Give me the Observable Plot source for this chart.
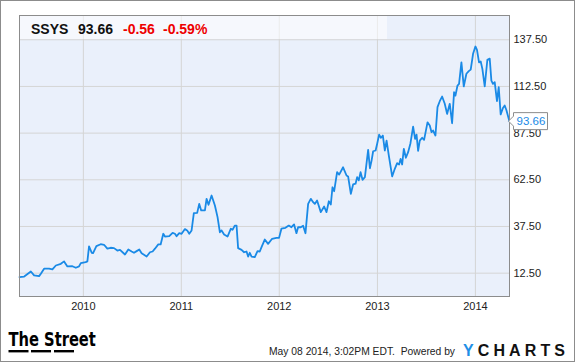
<!DOCTYPE html>
<html>
<head>
<meta charset="utf-8">
<script src="https://cdn.jsdelivr.net/npm/d3@7"></script>
<script src="https://cdn.jsdelivr.net/npm/@observablehq/plot@0.6"></script>
<style>
  html, body { margin: 0; padding: 0; background: #fff; }
  #wrap { position: relative; width: 575px; height: 362px; overflow: hidden; font-family: Arial, "Liberation Sans", sans-serif; }
  #wrap svg { display: block; }
  #overlay { position: absolute; left: 0; top: 0; pointer-events: none; }
</style>
</head>
<body>
<div id="wrap"></div>
<script>
// ---- data (decimal years, closing prices) ----
const times = [
  2009.348, 2009.396, 2009.464, 2009.497, 2009.548, 2009.566, 2009.599, 2009.650, 2009.684, 2009.719,
  2009.770, 2009.803, 2009.837, 2009.888, 2009.923, 2009.956, 2009.974, 2010.024, 2010.041, 2010.058,
  2010.086, 2010.099, 2010.133, 2010.177, 2010.211, 2010.245, 2010.279, 2010.313, 2010.347, 2010.374,
  2010.425, 2010.459, 2010.493, 2010.517, 2010.544, 2010.571, 2010.595, 2010.646, 2010.680, 2010.707,
  2010.731, 2010.765, 2010.789, 2010.816, 2010.833, 2010.877, 2010.911, 2010.935, 2010.952, 2010.979,
  2011.003, 2011.037, 2011.060, 2011.081, 2011.105, 2011.128, 2011.162, 2011.183, 2011.203, 2011.241,
  2011.258, 2011.278, 2011.309, 2011.343, 2011.370, 2011.394, 2011.411, 2011.437, 2011.472, 2011.506,
  2011.523, 2011.546, 2011.564, 2011.580, 2011.615, 2011.641, 2011.666, 2011.682, 2011.699, 2011.717,
  2011.750, 2011.778, 2011.801, 2011.819, 2011.852, 2011.886, 2011.927, 2011.971, 2011.998, 2012.022,
  2012.063, 2012.097, 2012.124, 2012.151, 2012.175, 2012.192, 2012.219, 2012.243, 2012.267, 2012.294,
  2012.321, 2012.345, 2012.362, 2012.385, 2012.423, 2012.457, 2012.481, 2012.505, 2012.525, 2012.542,
  2012.559, 2012.589, 2012.610, 2012.650, 2012.685, 2012.701, 2012.729, 2012.752, 2012.777, 2012.793,
  2012.810, 2012.828, 2012.848, 2012.872, 2012.905, 2012.923, 2012.940, 2012.956, 2012.981, 2012.997,
  2013.017, 2013.035, 2013.055, 2013.075, 2013.093, 2013.116, 2013.150, 2013.177, 2013.201, 2013.221,
  2013.236, 2013.252, 2013.269, 2013.290, 2013.313, 2013.337, 2013.364, 2013.384, 2013.399, 2013.415,
  2013.432, 2013.456, 2013.476, 2013.511, 2013.534, 2013.552, 2013.568, 2013.592, 2013.613, 2013.636,
  2013.660, 2013.687, 2013.711, 2013.738, 2013.762, 2013.782, 2013.796, 2013.817, 2013.833, 2013.857,
  2013.881, 2013.908, 2013.932, 2013.952, 2013.976, 2014.000, 2014.016, 2014.037, 2014.054, 2014.071,
  2014.095, 2014.122, 2014.146, 2014.163, 2014.179, 2014.197, 2014.220, 2014.238, 2014.258, 2014.281,
  2014.299, 2014.316, 2014.348
];
const prices = [
  10.4, 10.7, 13.4, 11.3, 10.9, 12.2, 14.9, 14.9, 14.5, 16.6,
  17.5, 18.8, 16.1, 16.2, 15.4, 16.1, 17.9, 18.4, 18.8, 26.8,
  23.4, 23.2, 27.0, 28.0, 27.7, 25.6, 26.1, 25.9, 24.6, 25.0,
  22.5, 25.2, 24.1, 23.4, 24.3, 25.2, 23.2, 21.4, 23.7, 24.1,
  25.6, 27.9, 27.9, 33.6, 32.1, 32.3, 34.1, 33.6, 32.3, 33.9,
  33.6, 36.1, 35.4, 33.6, 35.4, 44.6, 44.8, 49.6, 46.1, 46.1,
  52.3, 49.1, 54.1, 48.7, 42.5, 34.4, 35.4, 33.2, 32.1, 36.3,
  35.7, 38.0, 38.0, 25.9, 25.0, 23.7, 24.1, 21.4, 23.4, 21.4,
  21.1, 24.3, 24.1, 26.4, 30.5, 28.2, 30.9, 31.4, 31.4, 36.3,
  36.8, 38.0, 37.1, 38.6, 33.9, 37.1, 37.1, 37.9, 33.9, 49.6,
  52.3, 50.5, 49.6, 51.4, 45.2, 48.2, 45.2, 51.0, 49.3, 58.5,
  56.4, 66.6, 65.3, 69.2, 64.8, 64.3, 55.0, 60.0, 60.4, 63.9,
  62.2, 66.6, 62.5, 63.9, 78.5, 68.7, 72.8, 77.8, 78.2, 81.8,
  86.7, 85.0, 86.2, 78.2, 83.5, 75.5, 64.3, 68.4, 71.4, 70.7,
  73.7, 70.7, 79.1, 74.3, 77.3, 82.1, 91.0, 84.4, 86.7, 78.0,
  83.5, 85.0, 83.9, 93.3, 91.6, 88.0, 88.9, 86.2, 101.4, 104.6,
  107.1, 103.2, 97.8, 103.2, 92.8, 109.4, 107.6, 113.0, 113.9, 125.4,
  112.5, 119.3, 120.7, 121.5, 130.0, 133.9, 132.1, 125.4, 125.9, 121.9,
  112.5, 126.8, 127.4, 115.6, 113.9, 114.8, 104.6, 112.1, 97.5, 101.0,
  102.3, 99.9, 93.66
];
const yTicks = [12.5, 37.5, 62.5, 87.5, 112.5, 137.5];
const xTickYears = [2010, 2011, 2012, 2013, 2014];
const ticker = "SSYS";
const lastPrice = "93.66";
const change = "-0.56";
const changePct = "-0.59%";
const footerText = "May 08 2014, 3:02PM EDT.  Powered by";

// ---- build table ----
function decToDate(t) {
  const y = Math.floor(t);
  const a = Date.UTC(y, 0, 1), b = Date.UTC(y + 1, 0, 1);
  return new Date(a + (t - y) * (b - a));
}
const data = times.map((t, i) => ({date: decToDate(t), price: prices[i]}));
const xTicks = xTickYears.map(y => new Date(Date.UTC(y, 0, 1)));

const W = 575, H = 362;
const chart = Plot.plot({
  width: W, height: H,
  marginLeft: 19, marginRight: 66, marginTop: 15, marginBottom: 66,
  x: {type: "utc", domain: [data[0].date, data[data.length - 1].date], label: null},
  y: {domain: [0, 150.5], label: null},
  style: {fontFamily: 'Arial, "Liberation Sans", sans-serif', fontSize: "11px", color: "#222", background: "transparent"},
  marks: [
    Plot.frame({fill: "#eaf0fb", stroke: null}),
    Plot.gridY(yTicks, {stroke: "#d5d5d5", strokeOpacity: 1, strokeWidth: 1}),
    Plot.gridX(xTicks, {stroke: "#d5d5d5", strokeOpacity: 1, strokeWidth: 1}),
    Plot.axisY(yTicks, {anchor: "right", tickSize: 0, tickPadding: 4, tickFormat: d3.format(".2f"), label: null, fill: "#222"}),
    Plot.axisX(xTicks, {anchor: "bottom", tickSize: 0, tickPadding: 6, tickFormat: d3.utcFormat("%Y"), label: null, fill: "#222"}),
    Plot.lineY(data, {x: "date", y: "price", stroke: "#1a8ae6", strokeWidth: 1.8, strokeLinejoin: "round"}),
    Plot.frame({stroke: "#8c8c8c", strokeWidth: 1})
  ]
});
const wrap = document.getElementById("wrap");
wrap.appendChild(chart);

// ---- overlay: header, last-price flag, footer, border ----
const px = chart.scale("x").apply(data[data.length - 1].date);
const py = chart.scale("y").apply(+lastPrice);
const ns = "http://www.w3.org/2000/svg";
const ov = document.createElementNS(ns, "svg");
ov.setAttribute("id", "overlay");
ov.setAttribute("width", W); ov.setAttribute("height", H);
ov.setAttribute("font-family", 'Arial, "Liberation Sans", sans-serif');
wrap.appendChild(ov);
function el(tag, attrs, text) {
  const e = document.createElementNS(ns, tag);
  for (const k in attrs) e.setAttribute(k, attrs[k]);
  if (text != null) e.textContent = text;
  ov.appendChild(e);
  return e;
}
// header band
el("rect", {x: 20, y: 16, width: 367, height: 23, fill: "#ffffff", "fill-opacity": 0.55});
el("text", {x: 31, y: 33.5, "font-size": 14, "font-weight": "bold", fill: "#111"}, ticker);
el("text", {x: 78, y: 33.5, "font-size": 14, "font-weight": "bold", fill: "#111"}, lastPrice);
el("text", {x: 123, y: 33.5, "font-size": 14, "font-weight": "bold", fill: "#ee0000"}, change);
el("text", {x: 163, y: 33.5, "font-size": 14, "font-weight": "bold", fill: "#ee0000"}, changePct);

// last price flag
const fx = px - 0.5, bw = 34, bh = 17;
el("path", {
  d: `M${fx},${py} L${fx + 5},${py - 5} L${fx + 5},${py - bh / 2} L${fx + 5 + bw},${py - bh / 2} L${fx + 5 + bw},${py + bh / 2} L${fx + 5},${py + bh / 2} L${fx + 5},${py + 5} Z`,
  fill: "#fff", stroke: "#8c8c8c", "stroke-width": 1
});
el("text", {x: fx + 8, y: py + 4, "font-size": 11.5, fill: "#1a8ae6"}, lastPrice);

// footer: The Street logo
el("text", {x: 0, y: 0, "font-size": 19, "font-weight": "bold", fill: "#000",
  "font-family": '"Liberation Sans Narrow", "DejaVu Sans Condensed", sans-serif',
  transform: "translate(8.5,345.8) scale(0.86,1)"}, "The Street");
el("rect", {x: 8.5, y: 350, width: 20, height: 2.4, fill: "#000"});
el("rect", {x: 31, y: 350, width: 20, height: 2.4, fill: "#000"});
el("rect", {x: 54, y: 350, width: 20, height: 2.4, fill: "#000"});

// footer text
el("text", {x: 269, y: 355, "font-size": 10.3, fill: "#222", style: "white-space:pre"}, footerText);
const yc = el("text", {x: 463, y: 356, "font-size": 16, "font-weight": "bold", fill: "#111", "letter-spacing": 4.1});
const ty = document.createElementNS(ns, "tspan"); ty.setAttribute("fill", "#1f8fe6"); ty.textContent = "Y"; yc.appendChild(ty);
const tc = document.createElementNS(ns, "tspan"); tc.textContent = "CHARTS"; yc.appendChild(tc);

// outer border
el("rect", {x: 0.5, y: 0.5, width: W - 1, height: H - 1, fill: "none", stroke: "#8c8c8c", "stroke-width": 1});
</script>
</body>
</html>
